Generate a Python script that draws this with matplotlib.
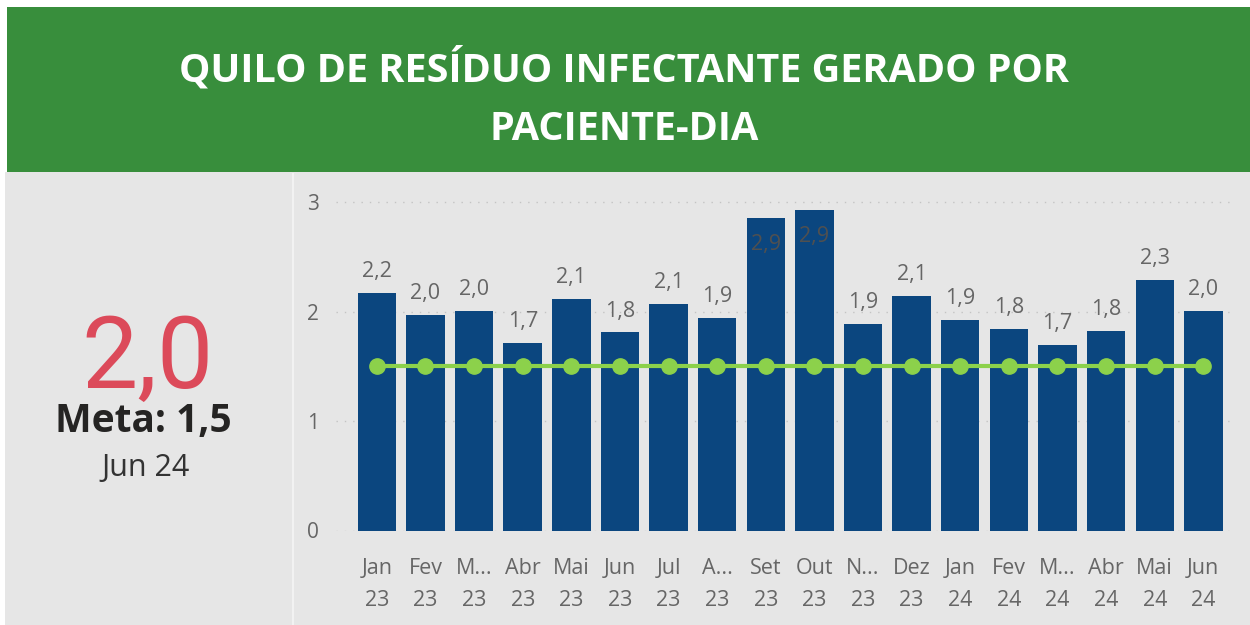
import matplotlib.pyplot as plt
from matplotlib.patches import Rectangle
from matplotlib.lines import Line2D

plt.rcParams['font.family'] = ['Open Sans', 'DejaVu Sans']

meses = ['Jan\n23', 'Fev\n23', 'M...\n23', 'Abr\n23', 'Mai\n23', 'Jun\n23', 'Jul\n23', 'A...\n23',
         'Set\n23', 'Out\n23', 'N...\n23', 'Dez\n23', 'Jan\n24', 'Fev\n24', 'M...\n24', 'Abr\n24',
         'Mai\n24', 'Jun\n24']
valores = [2.17, 1.97, 2.01, 1.71, 2.12, 1.81, 2.07, 1.94, 2.86, 2.93, 1.89, 2.14, 1.92, 1.84,
           1.70, 1.82, 2.29, 2.01]
meta = [1.5] * len(meses)
yticks = [0, 1, 2, 3]

titulo = 'QUILO DE RESÍDUO INFECTANTE GERADO POR\nPACIENTE-DIA'
valor_atual = '2,0'
texto_meta = 'Meta: 1,5'
mes_atual = 'Jun 24'

fig = plt.figure(figsize=(12.5, 6.25), dpi=100)
fig.patch.set_facecolor('white')

# fundo e cabeçalho
fig.patches.append(Rectangle((0.004, 0), 0.996, (625 - 172) / 625, transform=fig.transFigure,
                             facecolor='#e6e6e6', edgecolor='none', zorder=-2))
fig.patches.append(Rectangle((0.0056, (625 - 172) / 625), 0.9944, 165 / 625, transform=fig.transFigure,
                             facecolor='#388e3c', edgecolor='none', zorder=-2))
fig.lines.append(Line2D([293 / 1250, 293 / 1250], [0, (625 - 174) / 625], transform=fig.transFigure,
                        color='#f2f2f2', linewidth=1.5, zorder=-1))

fig.text(0.499, 1 - 98 / 625, titulo, ha='center', va='center', multialignment='center',
         color='white', fontsize=28.5, fontweight='bold', linespacing=1.62)

# cartão da esquerda
fig.text(148 / 1250, 1 - 388 / 625, valor_atual, ha='center', va='baseline', color='#dc4a5a',
         fontsize=72, family=['Roboto', 'DejaVu Sans'])
fig.text(143 / 1250, 1 - 432 / 625, texto_meta, ha='center', va='baseline', color='#252423',
         fontsize=28, fontweight='bold')
fig.text(146 / 1250, 1 - 476 / 625, mes_atual, ha='center', va='baseline', color='#333333',
         fontsize=22)

# gráfico de barras
ymax = 3.15
ax = fig.add_axes([336 / 1250, (625 - 530.5) / 625, (1233 - 336) / 1250, ymax * 109.4 / 625])
ax.set_facecolor('none')
x = list(range(len(meses)))
ax.bar(x, valores, width=0.79, color='#0b467f', zorder=2)
ax.plot(x, meta, color='#8cd14b', linewidth=3, marker='o', markersize=11, zorder=3)

for i, v in enumerate(valores):
    rotulo = f'{v:.1f}'.replace('.', ',')
    if v > ymax - 0.35:
        ax.annotate(rotulo, (i, v), xytext=(0, -23), textcoords='offset points', ha='center',
                    va='baseline', fontsize=15.5, color='#505050', zorder=4)
    else:
        ax.annotate(rotulo, (i, v), xytext=(0, 11.5), textcoords='offset points', ha='center',
                    va='baseline', fontsize=15.5, color='#666666', zorder=4)

ax.set_xlim(-0.84, 17.61)
ax.set_ylim(0, ymax)
ax.set_yticks(yticks)
ax.set_xticks(x)
ax.set_xticklabels(meses, linespacing=1.65)
ax.tick_params(axis='x', length=0, pad=20, labelsize=15.5, labelcolor='#666666')
ax.tick_params(axis='y', length=0, pad=12, labelsize=15, labelcolor='#666666')
for s in ax.spines.values():
    s.set_visible(False)
ax.grid(axis='y', color='#c4c4c4', linestyle=(0, (1, 5)), linewidth=1, zorder=1)
ax.set_axisbelow(True)

fig.savefig('out.png', dpi=100)
